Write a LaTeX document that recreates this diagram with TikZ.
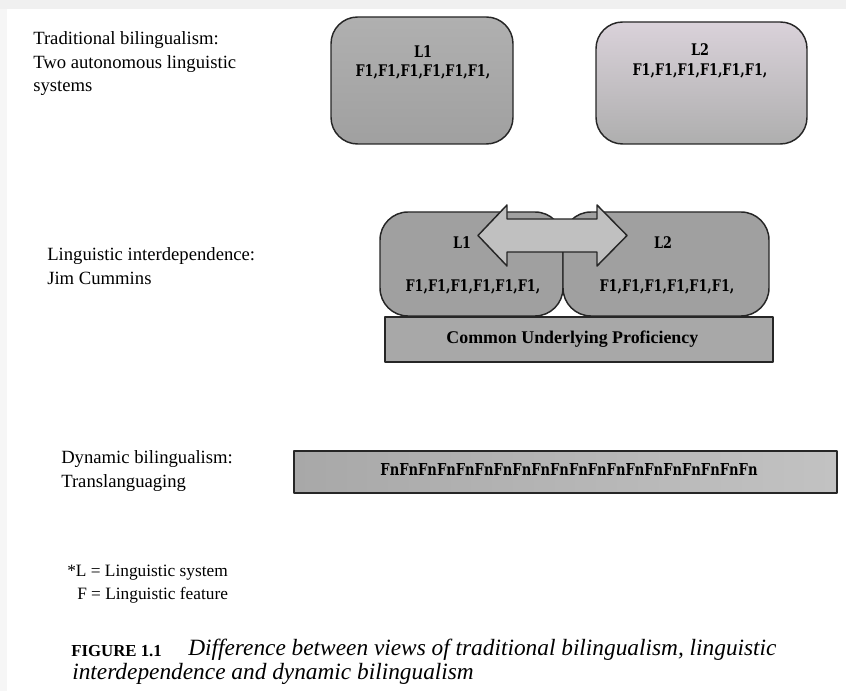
\documentclass[tikz,border=0pt]{standalone}
\usepackage{fontspec}
\setmainfont{Liberation Serif}
\newfontfamily\slabfont[FakeStretch=0.8]{DejaVu Serif}
\usetikzlibrary{positioning}
\definecolor{pageedge}{RGB}{240,240,240}
\definecolor{boxdark}{RGB}{160,160,160}
\definecolor{boxmid}{RGB}{176,176,176}
\definecolor{boxlight}{RGB}{218,210,218}
\definecolor{arrowgray}{RGB}{192,192,192}
\definecolor{bargray}{RGB}{168,168,168}
\tikzset{
  view/.style={anchor=west,align=left,inner sep=0pt,font=\fontsize{14}{17.6}\selectfont},
  sysbox/.style={draw=black!85,line width=1.1pt,rounded corners=20pt,inner sep=0pt},
  feat/.style={inner sep=0pt,font=\slabfont\bfseries\fontsize{12}{14}\selectfont},
  basebar/.style={draw=black!85,line width=1.1pt,inner sep=0pt}
}
\begin{document}
\begin{tikzpicture}[x=0.75pt,y=-0.75pt,line join=round]
\useasboundingbox (0,0) rectangle (846,691);
\fill[pageedge] (0,0) rectangle (846,9);
\fill[pageedge!60] (0,9) rectangle (7,691);

% traditional bilingualism
\node[view] (trad) at (33,64) {Traditional bilingualism:\\Two autonomous linguistic\\systems};
\node[sysbox,top color=boxmid,bottom color=boxdark,minimum width=136.5pt,minimum height=95.25pt] (sysa) at (422,80.5) {};
\node[sysbox,top color=boxlight,bottom color=boxdark!85,minimum width=158.25pt,minimum height=91.5pt] (sysb) at (701.5,83) {};
\node[feat] (la) at (423,52) {L1};
\node[feat] (fa) at (423,72) {F1,F1,F1,F1,F1,F1,};
\node[feat] (lb) at (700,50) {L2};
\node[feat] (fb) at (700,71) {F1,F1,F1,F1,F1,F1,};

% linguistic interdependence
\node[view] (cummins) at (47,266) {Linguistic interdependence:\\Jim Cummins};
\node[sysbox,rounded corners=21pt,fill=boxdark,minimum width=137.25pt,minimum height=78pt] (lefta) at (471.5,264) {};
\node[sysbox,rounded corners=21pt,fill=boxdark,minimum width=154.5pt,minimum height=78pt] (rightb) at (666,264) {};
\filldraw[arrowgray,draw=black!85,line width=1.1pt]
  (478,235.5) -- (507,205) -- (507,219) -- (597,219) -- (597,205) -- (627,235.5)
  -- (597,266) -- (597,252) -- (507,252) -- (507,266) -- cycle;
\node[feat] (lc) at (462,243) {L1};
\node[feat] (ld) at (663,243) {L2};
\node[feat] (fc) at (473,287) {F1,F1,F1,F1,F1,F1,};
\node[feat] (fd) at (667,287) {F1,F1,F1,F1,F1,F1,};
\node[basebar,fill=bargray,minimum width=291pt,minimum height=33.75pt,
  font=\bfseries\fontsize{13.4}{16}\selectfont] (cup) at (579,339.5) {\hspace*{-5pt}Common Underlying Proficiency\hspace*{5pt}};

% dynamic bilingualism
\node[view] (dyn) at (61,471) {Dynamic bilingualism:\\Translanguaging};
\node[basebar,left color=bargray,right color=bargray!70,minimum width=407.25pt,minimum height=31.5pt] (fnbar) at (565.5,472) {};
\node[feat,font=\slabfont\bfseries\fontsize{12.3}{14}\selectfont] (fn) at (569,470) {FnFnFnFnFnFnFnFnFnFnFnFnFnFnFnFnFnFnFnFn};

% key and caption
\node[view,font=\fontsize{13}{17.3}\selectfont] (key) at (67,584) {*L = Linguistic system\\\hspace*{7.5pt}F = Linguistic feature};
\node[anchor=west,inner sep=0pt,font=\bfseries\fontsize{12.6}{14}\selectfont] (fig) at (71,651) {FIGURE 1.1};
\node[anchor=west,inner sep=0pt,font=\itshape\fontsize{17.5}{20}\selectfont] (capa) at (188,650) {Difference between views of traditional bilingualism, linguistic};
\node[anchor=west,inner sep=0pt,font=\itshape\fontsize{17.5}{20}\selectfont] (capb) at (72,674) {interdependence and dynamic bilingualism};
\end{tikzpicture}
\end{document}
